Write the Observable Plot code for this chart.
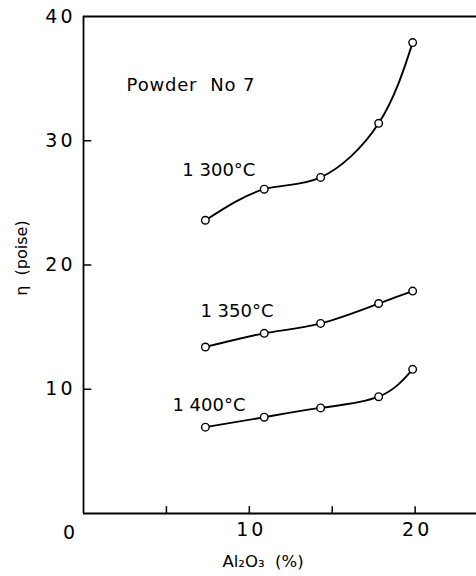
<!DOCTYPE html>
<html>
<head>
<meta charset="utf-8">
<script src="https://cdn.jsdelivr.net/npm/d3@7"></script>
<script src="https://cdn.jsdelivr.net/npm/@observablehq/plot@0.6"></script>
<style>
  body { margin: 0; background: #fff; }
  svg { display: block; }
  g[aria-label="y-axis tick label"] text,
  g[aria-label="x-axis tick label"] text,
  g.origin-label text { letter-spacing: 3px; }
  g.note text { letter-spacing: 0.8px; }
</style>
</head>
<body>
<div id="chart"></div>
<script>
// Viscosity of powder No 7 melts against alumina content, at three temperatures
const alumina = [7.35, 10.9, 14.3, 17.8, 19.85];           // Al2O3 (%)
const temperatures = ["1 300°C", "1 350°C", "1 400°C"];
const visc1300 = [23.6, 26.1, 27.05, 31.4, 37.9];          // poise
const visc1350 = [13.4, 14.5, 15.3, 16.9, 17.9];
const visc1400 = [6.95, 7.75, 8.5, 9.4, 11.6];

const xTicks = [5, 10, 15, 20];
const xTickLabels = [10, 20];
const yTicks = [10, 20, 30];
const yTickLabels = [10, 20, 30, 40];
const noteText = "Powder  No 7";
const xTitle = "Al₂O₃  (%)";
const yTitle = "η  (poise)";

const rows = [visc1300, visc1350, visc1400].flatMap((vals, i) =>
  vals.map((v, j) => ({temp: temperatures[i], alumina: alumina[j], viscosity: v}))
);

// curve labels placed in data units, left of each curve
const curveLabels = [
  {text: temperatures[0], x: 5.96, y: 27.6},
  {text: temperatures[1], x: 7.05, y: 16.3},
  {text: temperatures[2], x: 5.36, y: 8.7}
];

const chart = Plot.plot({
  width: 476,
  height: 576,
  marginLeft: 83,
  marginRight: 0,
  marginTop: 16,
  marginBottom: 63,
  style: {fontFamily: "'DejaVu Sans', sans-serif", color: "#000", background: "#fff"},
  x: {domain: [0, 23.7]},
  y: {domain: [0, 40]},
  marks: [
    // frame: bottom, top and left
    Plot.ruleY([0, 40], {stroke: "#000", strokeWidth: 1.8}),
    Plot.ruleX([0], {stroke: "#000", strokeWidth: 1.8}),
    // inward ticks
    Plot.ruleY(yTicks, {x1: 0, x2: 0.5, stroke: "#000", strokeWidth: 1.5}),
    Plot.ruleX(xTicks, {y1: 0, y2: 0.55, stroke: "#000", strokeWidth: 1.5}),
    // tick labels
    Plot.axisY(yTickLabels, {tickSize: 0, tickPadding: 8, fontSize: 19, label: null}),
    Plot.axisX(xTickLabels, {tickSize: 0, tickPadding: 9, dx: 2, fontSize: 19, label: null}),
    Plot.text([0], {x: (d) => d, y: (d) => d, dx: -13, dy: 19, fontSize: 19, className: "origin-label"}),
    // axis titles
    Plot.text([xTitle], {frameAnchor: "bottom", textAnchor: "middle", lineAnchor: "middle", dx: -17, dy: 48, fontSize: 16.5}),
    Plot.text([yTitle], {frameAnchor: "left", textAnchor: "middle", rotate: -90, lineAnchor: "middle", dx: -62, dy: -7, fontSize: 16}),
    // curves and points
    Plot.line(rows, {x: "alumina", y: "viscosity", z: "temp", curve: "natural", stroke: "#000", strokeWidth: 1.9}),
    Plot.dot(rows, {x: "alumina", y: "viscosity", r: 3.8, fill: "#fff", stroke: "#000", strokeWidth: 1.4}),
    // annotations
    Plot.text(curveLabels, {x: "x", y: "y", text: "text", textAnchor: "start", fontSize: 18}),
    Plot.text([noteText], {x: () => 2.6, y: () => 34.5, textAnchor: "start", fontSize: 18, className: "note"})
  ]
});

document.getElementById("chart").append(chart);
</script>
</body>
</html>
